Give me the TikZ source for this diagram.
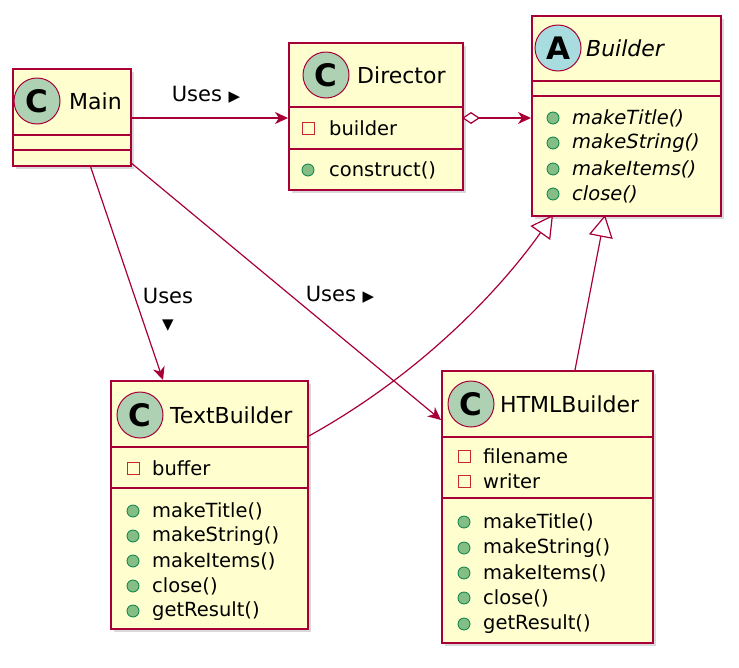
\documentclass[tikz,border=0pt]{standalone}
\usepackage{fontspec}
\setmainfont{DejaVu Sans}
\usetikzlibrary{arrows.meta,calc}
\definecolor{umlred}{HTML}{A80036}
\definecolor{umlfill}{HTML}{FEFECE}
\definecolor{cgreen}{HTML}{ADD1B2}
\definecolor{ablue}{HTML}{A9DCDF}
\definecolor{privred}{HTML}{C82930}
\definecolor{pubgreen}{HTML}{84BE84}
\definecolor{pubdark}{HTML}{038048}
\tikzset{
 box/.style={draw=umlred,fill=umlfill,line width=1.5pt,inner sep=0pt,anchor=north west},
 sec/.style={draw=umlred,line width=1.5pt},
 lbl/.style={font=\fontsize{19.5}{20}\selectfont,anchor=west,inner sep=0pt},
 ilbl/.style={lbl,font=\fontsize{19.5}{20}\selectfont\itshape},
 title/.style={font=\fontsize{22}{24}\selectfont,anchor=west,inner sep=0pt},
 circ/.style={circle,draw=umlred,line width=1pt,minimum size=46pt,inner sep=0pt,font=\fontsize{31}{31}\selectfont\bfseries},
 conn/.style={draw=umlred,line width=1.2pt},
 arr/.style={conn,-{Stealth[length=13pt,width=12pt,inset=4pt]}},
 inh/.style={conn,-{Triangle[open,length=22pt,width=24pt,fill=white]}},
 txt/.style={font=\fontsize{21}{22}\selectfont,inner sep=0pt}
}
\newcommand{\umlbox}[5]{%
 \fill[black!25,opacity=0.6] (#2+4,#3+4) rectangle (#4+4,#5+4);
 \node[box,minimum width=#4-#2,minimum height=#5-#3] (#1) at (#2,#3) {};}
\newcommand{\priv}[2]{\draw[draw=privred,fill=none,line width=1pt] (#1-6,#2-6) rectangle (#1+6,#2+6);}
\newcommand{\pub}[2]{\draw[draw=pubdark,fill=pubgreen,line width=0.8pt] (#1,#2) circle (6);}
\begin{document}
\begin{tikzpicture}[x=1pt,y=-1pt]
\useasboundingbox (0,0) rectangle (739,667);
% Main
\umlbox{main}{12}{68}{130}{165}
\node[circ,fill=cgreen] (mainc) at (37,101) {C};
\node[title] (maint) at (69,101) {Main};
\draw[sec] (12,135) -- (130,135);
\draw[sec] (12,150) -- (130,150);
% Director
\umlbox{director}{288}{42}{462}{189}
\node[circ,fill=cgreen] (dirc) at (326,75) {C};
\node[title] (dirt) at (357,75) {Director};
\draw[sec] (288,107) -- (462,107);
\priv{308}{128}\node[lbl] (dira) at (329,128) {builder};
\draw[sec] (288,149) -- (462,149);
\pub{308}{170}\node[lbl] (dirm) at (329,170) {construct()};
% Builder
\umlbox{builder}{531}{15}{720}{215}
\node[circ,fill=ablue] (bc) at (558,48) {A};
\node[title,font=\fontsize{22}{24}\selectfont\itshape] (bt) at (586,48) {Builder};
\draw[sec] (531,81) -- (720,81);
\draw[sec] (531,96) -- (720,96);
\pub{553}{118}\node[ilbl] (b1) at (572,118) {makeTitle()};
\pub{553}{143}\node[ilbl] (b2) at (572,143) {makeString()};
\pub{553}{169}\node[ilbl] (b3) at (572,169) {makeItems()};
\pub{553}{194}\node[ilbl] (b4) at (572,194) {close()};
% TextBuilder
\umlbox{textb}{110}{380}{307}{628}
\node[circ,fill=cgreen] (tc) at (140,415) {C};
\node[title] (tt) at (170,415) {TextBuilder};
\draw[sec] (110,447) -- (307,447);
\priv{133}{468}\node[lbl] (ta) at (152,468) {buffer};
\draw[sec] (110,488) -- (307,488);
\pub{133}{511}\node[lbl] (t1) at (152,511) {makeTitle()};
\pub{133}{536}\node[lbl] (t2) at (152,536) {makeString()};
\pub{133}{561}\node[lbl] (t3) at (152,561) {makeItems()};
\pub{133}{586}\node[lbl] (t4) at (152,586) {close()};
\pub{133}{611}\node[lbl] (t5) at (152,611) {getResult()};
% HTMLBuilder
\umlbox{htmlb}{441}{370}{652}{642}
\node[circ,fill=cgreen] (hc) at (471,404) {C};
\node[title] (ht) at (500,404) {HTMLBuilder};
\draw[sec] (441,437) -- (652,437);
\priv{464}{456}\node[lbl] (ha) at (483,456) {filename};
\priv{464}{481}\node[lbl] (hb) at (483,481) {writer};
\draw[sec] (441,498) -- (652,498);
\pub{464}{522}\node[lbl] (h1) at (483,522) {makeTitle()};
\pub{464}{548}\node[lbl] (h2) at (483,548) {makeString()};
\pub{464}{573}\node[lbl] (h3) at (483,573) {makeItems()};
\pub{464}{598}\node[lbl] (h4) at (483,598) {close()};
\pub{464}{624}\node[lbl] (h5) at (483,624) {getResult()};
% connectors
\coordinate (m1) at (130,118);
\coordinate (d1) at (288,118);
\coordinate (m2) at (90,165);
\coordinate (t0) at (163,380);
\coordinate (m3) at (130,162);
\coordinate (h0) at (441,420);
\coordinate (d2) at (462,118);
\coordinate (b0) at (531,118);
\coordinate (tb) at (307,437);
\coordinate (bt1) at (553,215);
\coordinate (hb0) at (575,370);
\coordinate (bt2) at (605,215);
\draw[arr] (m1) -- (d1);
\node[txt] (l1) at (206,95) {Uses \fontsize{15}{15}\selectfont ▶};
\draw[arr] (m2) -- (t0);
\node[txt,align=center] (l2) at (168,310) {Uses\\[4pt]\fontsize{15}{15}\selectfont ▼};
\draw[arr] (m3) -- (h0);
\node[txt] (l3) at (340,295) {Uses \fontsize{15}{15}\selectfont ▶};
\draw[arr,{Diamond[open,length=18pt,width=12pt,fill=white]}-{Stealth[length=13pt,width=12pt,inset=4pt]}] (d2) -- (b0);
\draw[inh] (tb) .. controls (420,375) and (500,290) .. (bt1);
\draw[inh] (hb0) -- (bt2);
\end{tikzpicture}
\end{document}
